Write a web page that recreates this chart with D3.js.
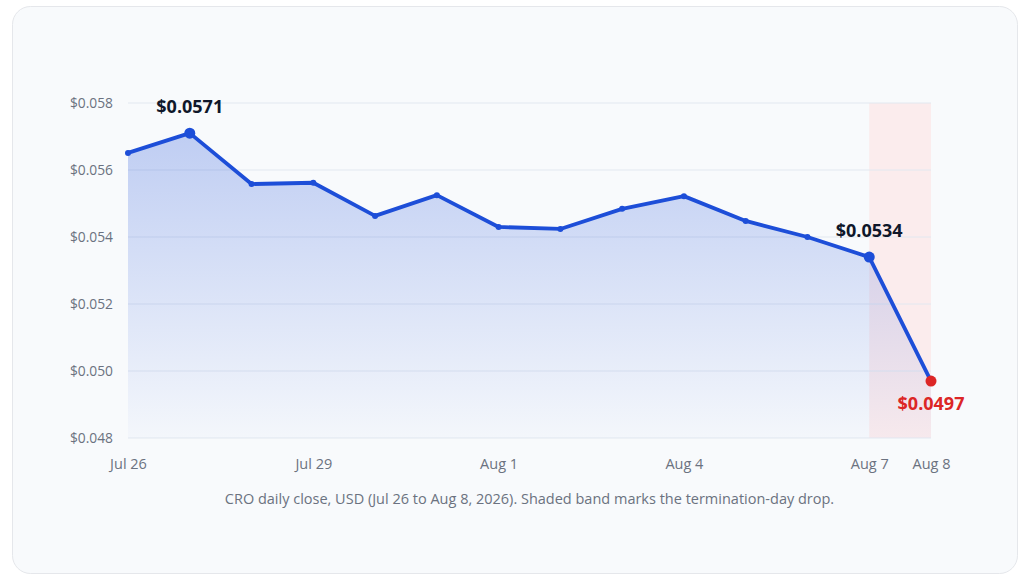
<!DOCTYPE html>
<html>
<head>
  <script src="https://d3js.org/d3.v7.min.js"></script>
  <title>CRO daily close</title>
  <style>
    html, body { margin: 0; padding: 0; background: #ffffff; }
    body { width: 1024px; height: 578px; overflow: hidden; font-family: "Open Sans", "Noto Sans", sans-serif; }
  </style>
</head>
<body>
  <div id="chart"></div>
  <script>
    // data
    const days = ["Jul 26", "Jul 27", "Jul 28", "Jul 29", "Jul 30", "Jul 31", "Aug 1",
                  "Aug 2", "Aug 3", "Aug 4", "Aug 5", "Aug 6", "Aug 7", "Aug 8"];
    const closes = [0.05651, 0.0571, 0.05558, 0.05562, 0.05463, 0.05525, 0.0543,
                    0.05424, 0.05484, 0.05522, 0.05448, 0.054, 0.0534, 0.0497];
    const xTickLabels = ["Jul 26", "Jul 29", "Aug 1", "Aug 4", "Aug 7", "Aug 8"];
    const yTicks = [0.048, 0.05, 0.052, 0.054, 0.056, 0.058];
    const callouts = ["Jul 27", "Aug 7", "Aug 8"];
    const bandDays = ["Aug 7", "Aug 8"];
    const caption = "CRO daily close, USD (Jul 26 to Aug 8, 2026). Shaded band marks the termination-day drop.";

    const W = 1024, H = 578;
    const margin = { top: 103, right: 93, bottom: 140, left: 128 };
    const width = W - margin.left - margin.right,
      height = H - margin.top - margin.bottom;

    const root = d3.select("#chart").append("svg")
      .attr("width", W)
      .attr("height", H);

    // card
    root.append("rect")
      .attr("x", 12.5).attr("y", 6.5)
      .attr("width", 1005).attr("height", 567)
      .attr("rx", 18).attr("ry", 18)
      .style("fill", "#f8fafc")
      .style("stroke", "#e5e7eb")
      .style("stroke-width", 1);

    const defs = root.append("defs");
    const grad = defs.append("linearGradient")
      .attr("id", "areaGrad")
      .attr("x1", 0).attr("y1", 0).attr("x2", 0).attr("y2", 1);
    grad.append("stop").attr("offset", "0%").attr("stop-color", "#1d4ed8").attr("stop-opacity", 0.26);
    grad.append("stop").attr("offset", "100%").attr("stop-color", "#1d4ed8").attr("stop-opacity", 0.02);

    const svg = root.append("g")
      .attr("transform", `translate(${margin.left},${margin.top})`);

    const x = d3.scalePoint()
      .domain(days)
      .range([0, width]);

    const y = d3.scaleLinear()
      .domain([0.048, 0.058])
      .range([height, 0]);

    // termination-day band
    svg.append("rect")
      .attr("x", x(bandDays[0]))
      .attr("y", 0)
      .attr("width", x(bandDays[1]) - x(bandDays[0]))
      .attr("height", height)
      .style("fill", "#fee2e2")
      .style("opacity", 0.6);

    // grid
    svg.append("g")
      .selectAll("line")
      .data(yTicks)
      .join("line")
        .attr("x1", 0).attr("x2", width)
        .attr("y1", d => y(d)).attr("y2", d => y(d))
        .style("stroke", "#e2e8f0")
        .style("stroke-width", 1);

    // y axis
    const yAxis = svg.append("g")
      .attr("transform", "translate(-12,0)")
      .call(d3.axisLeft(y).tickValues(yTicks).tickSize(0).tickFormat(d => "$" + d3.format(".3f")(d)));
    yAxis.select(".domain").remove();
    yAxis.selectAll("text")
      .style("font-family", "'Open Sans', sans-serif")
      .style("font-size", "13.8px")
      .style("fill", "#6b7280");

    // x axis
    const xAxis = svg.append("g")
      .attr("transform", `translate(0,${height + 18})`)
      .call(d3.axisBottom(x).tickValues(xTickLabels).tickSize(0));
    xAxis.select(".domain").remove();
    xAxis.selectAll("text")
      .style("font-family", "'Open Sans', sans-serif")
      .style("font-size", "14.5px")
      .style("fill", "#6b7280");

    const series = days.map((d, i) => ({ day: d, v: closes[i] }));

    // area
    svg.append("path")
      .datum(series)
      .attr("d", d3.area().x(d => x(d.day)).y0(height).y1(d => y(d.v)))
      .style("fill", "url(#areaGrad)");

    // line
    svg.append("path")
      .datum(series)
      .attr("d", d3.line().x(d => x(d.day)).y(d => y(d.v)))
      .style("fill", "none")
      .style("stroke", "#1d4ed8")
      .style("stroke-width", 3.8)
      .style("stroke-linejoin", "round");

    // points
    svg.selectAll(".pt")
      .data(series)
      .join("circle")
        .attr("class", "pt")
        .attr("cx", d => x(d.day))
        .attr("cy", d => y(d.v))
        .attr("r", d => callouts.includes(d.day) ? 5.5 : 3)
        .style("fill", d => d.day === "Aug 8" ? "#dc2626" : "#1d4ed8");

    // callout labels
    const labelled = series.filter(d => callouts.includes(d.day));
    svg.selectAll(".callout")
      .data(labelled)
      .join("text")
        .attr("class", "callout")
        .attr("x", d => x(d.day))
        .attr("y", d => d.day === "Aug 8" ? y(d.v) + 29 : y(d.v) - 20)
        .attr("text-anchor", "middle")
        .style("font-family", "'Open Sans', sans-serif")
        .style("font-weight", 700)
        .style("font-size", "18px")
        .style("fill", d => d.day === "Aug 8" ? "#dc2626" : "#0f172a")
        .text(d => "$" + d3.format(".4f")(d.v));

    // caption
    svg.append("text")
      .attr("x", width / 2)
      .attr("y", height + 66)
      .attr("text-anchor", "middle")
      .style("font-family", "'Open Sans', sans-serif")
      .style("font-size", "14.5px")
      .style("fill", "#6b7280")
      .text(caption);
  </script>
</body>
</html>
